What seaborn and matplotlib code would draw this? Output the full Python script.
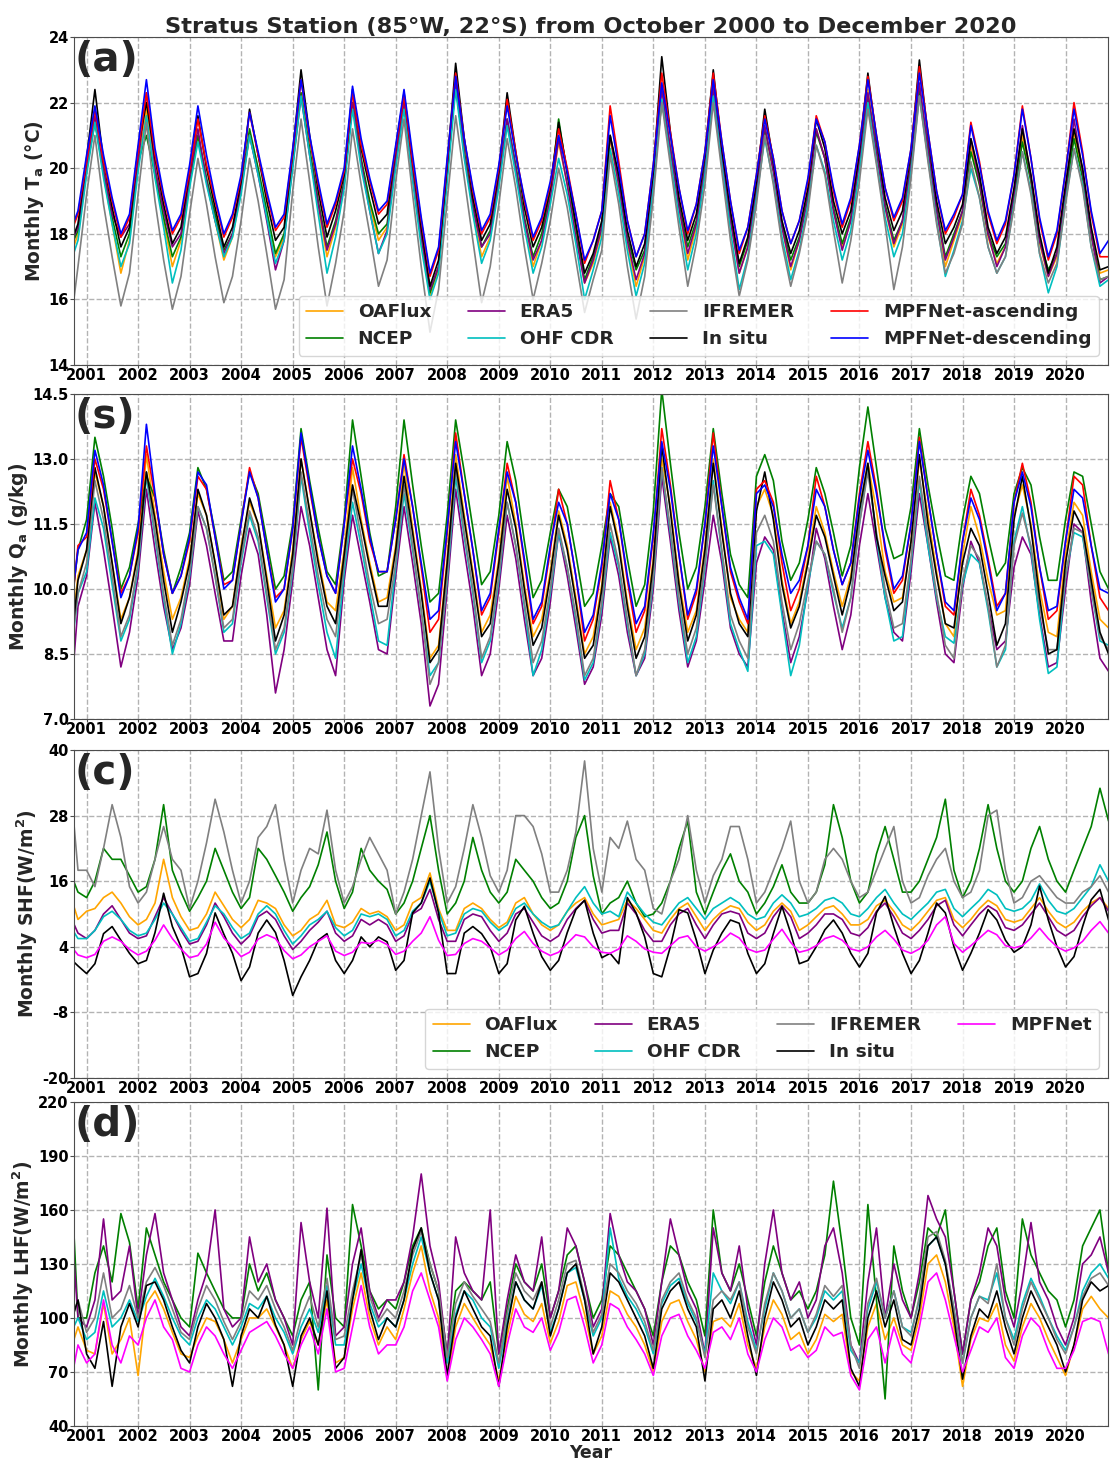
import pandas as pd
import matplotlib
matplotlib.use("Agg")
import matplotlib.pyplot as plt
import matplotlib.dates as mdates
import seaborn as sns

# -----------------------------
# Sample dates: 1st of every other month, Sep 2000 .. Nov 2020
# (values per year: Jan, Mar, May, Jul, Sep, Nov)
# -----------------------------
dates = pd.date_range("2000-09-01", "2020-11-01", freq="2MS")

# -----------------------------
# Panel (a): air temperature Ta (degC)
# -----------------------------
ta_oaflux = [17.2, 18.0,
    19.9, 21.5, 19.8, 18.3, 16.8, 17.8, 20.1, 21.8, 19.9, 18.4, 17.0, 17.8,
    19.6, 21.0, 19.6, 18.4, 17.2, 17.9, 19.3, 21.0, 19.9, 18.6, 17.3, 17.9,
    20.1, 22.3, 20.5, 18.8, 17.3, 18.2, 19.5, 22.0, 20.2, 18.9, 17.8, 18.2,
    20.2, 22.0, 19.8, 17.8, 16.1, 16.9, 19.8, 22.7, 20.5, 18.7, 17.3, 17.9,
    19.6, 21.4, 20.0, 18.4, 17.0, 17.8, 19.1, 20.8, 19.5, 18.0, 16.5, 17.1,
    18.1, 20.9, 19.4, 17.7, 16.4, 17.3, 19.6, 22.5, 20.6, 18.8, 17.2, 18.2,
    20.0, 22.4, 20.3, 18.4, 16.8, 17.6, 19.3, 21.2, 19.9, 18.2, 16.9, 17.8,
    19.1, 21.2, 20.3, 18.7, 17.6, 18.4, 20.2, 22.4, 20.5, 18.8, 17.6, 18.3,
    20.1, 22.5, 20.6, 18.7, 17.0, 17.8, 18.6, 20.7, 19.5, 17.9, 17.1, 17.6,
    19.1, 21.0, 19.6, 17.7, 16.7, 17.3, 19.2, 21.1, 19.8, 17.9, 16.8, 16.9]
ta_ncep = [17.5, 18.1,
    20.0, 21.4, 19.9, 18.5, 17.3, 18.0, 20.2, 21.0, 19.8, 18.5, 17.3, 17.9,
    19.6, 21.0, 19.7, 18.6, 17.5, 18.0, 19.4, 21.2, 20.0, 18.7, 17.4, 18.0,
    20.2, 22.3, 20.6, 19.0, 17.6, 18.4, 19.6, 22.0, 20.3, 19.0, 18.0, 18.3,
    20.3, 22.0, 19.9, 18.0, 16.2, 17.0, 19.9, 22.5, 20.5, 18.9, 17.6, 18.1,
    19.7, 21.5, 20.1, 18.5, 17.3, 18.0, 19.3, 21.5, 19.8, 18.2, 16.6, 17.3,
    18.2, 21.0, 19.6, 17.9, 16.9, 17.5, 19.7, 22.0, 20.6, 18.9, 17.6, 18.4,
    20.1, 22.5, 20.4, 18.5, 17.0, 17.8, 19.4, 21.2, 20.0, 18.3, 17.2, 17.9,
    19.2, 21.1, 20.3, 18.8, 17.7, 18.5, 20.3, 22.2, 20.6, 18.9, 17.8, 18.4,
    20.2, 22.4, 20.6, 18.8, 17.3, 18.0, 18.7, 20.5, 19.5, 18.0, 17.3, 17.7,
    19.1, 20.8, 19.6, 17.8, 16.9, 17.4, 19.2, 20.9, 19.7, 18.0, 16.6, 16.7]
ta_era5 = [17.6, 18.2,
    20.0, 21.6, 19.9, 18.6, 17.9, 18.3, 20.2, 22.3, 20.0, 18.7, 17.6, 18.0,
    19.7, 21.2, 19.6, 18.4, 17.4, 18.0, 19.4, 21.0, 19.8, 18.4, 16.9, 17.8,
    20.1, 22.2, 20.4, 18.9, 17.5, 18.3, 19.5, 22.0, 20.2, 18.7, 17.4, 18.1,
    20.3, 22.0, 19.8, 17.9, 16.3, 17.0, 19.8, 22.6, 20.4, 18.8, 17.6, 18.0,
    19.6, 21.5, 20.0, 18.4, 17.2, 17.8, 19.1, 20.9, 19.5, 17.9, 16.5, 17.2,
    18.2, 21.0, 19.5, 17.8, 16.6, 17.4, 19.6, 22.4, 20.6, 18.8, 17.4, 18.3,
    20.0, 22.5, 20.3, 18.4, 16.8, 17.6, 19.3, 21.3, 19.9, 18.2, 17.0, 17.8,
    19.1, 21.2, 20.3, 18.7, 17.5, 18.4, 20.2, 22.3, 20.5, 18.8, 17.7, 18.4,
    20.1, 22.6, 20.6, 18.7, 17.2, 17.9, 18.7, 20.9, 19.6, 18.0, 17.0, 17.6,
    19.2, 21.3, 19.7, 17.8, 16.7, 17.4, 19.3, 21.5, 19.9, 18.0, 16.5, 16.7]
ta_ohf = [17.0, 17.8,
    19.8, 21.4, 19.7, 18.3, 17.0, 17.7, 19.9, 21.6, 19.7, 18.2, 16.5, 17.5,
    19.4, 20.8, 19.5, 18.4, 17.3, 17.9, 19.2, 21.0, 19.8, 18.5, 17.1, 17.8,
    20.0, 22.2, 20.4, 18.6, 16.8, 17.9, 19.4, 21.8, 20.0, 18.7, 17.4, 18.0,
    20.0, 21.8, 19.6, 17.6, 16.0, 16.8, 19.6, 22.4, 20.3, 18.6, 17.1, 17.8,
    19.4, 21.3, 19.8, 18.2, 16.8, 17.6, 18.9, 20.3, 19.2, 17.7, 16.0, 16.9,
    17.9, 20.6, 19.2, 17.5, 16.1, 17.1, 19.4, 22.1, 20.3, 18.5, 16.9, 18.0,
    19.8, 22.2, 20.1, 18.1, 16.3, 17.3, 19.1, 20.9, 19.6, 17.9, 16.6, 17.5,
    18.9, 20.7, 19.9, 18.4, 17.2, 18.1, 19.9, 22.0, 20.2, 18.5, 17.3, 18.0,
    19.9, 22.2, 20.3, 18.4, 16.7, 17.5, 18.4, 20.0, 19.1, 17.6, 16.8, 17.3,
    18.9, 20.5, 19.3, 17.4, 16.2, 17.0, 19.0, 20.6, 19.5, 17.6, 16.4, 16.6]
ta_ifremer = [14.9, 17.0,
    19.2, 21.0, 18.9, 17.3, 15.8, 16.8, 19.2, 21.4, 19.0, 17.2, 15.7, 16.7,
    18.6, 20.3, 18.9, 17.3, 15.9, 16.7, 18.4, 20.3, 19.0, 17.4, 15.7, 16.6,
    19.3, 21.5, 19.6, 17.6, 15.8, 17.1, 18.7, 21.2, 19.5, 18.0, 16.4, 17.2,
    19.6, 21.5, 19.2, 17.0, 15.0, 16.3, 19.0, 21.6, 19.7, 17.8, 15.9, 17.0,
    18.9, 20.9, 19.4, 17.6, 16.0, 17.1, 18.4, 20.0, 18.8, 17.2, 15.6, 16.6,
    17.5, 20.4, 18.9, 17.0, 15.4, 16.7, 19.1, 22.0, 20.1, 18.2, 16.4, 17.7,
    19.5, 22.0, 19.9, 17.8, 16.1, 17.2, 18.9, 21.0, 19.5, 17.7, 16.4, 17.4,
    18.7, 20.7, 19.8, 18.1, 16.5, 17.8, 19.6, 21.8, 20.1, 18.3, 16.3, 17.6,
    19.7, 22.2, 20.2, 18.3, 16.8, 17.4, 18.3, 20.2, 19.1, 17.6, 16.8, 17.3,
    18.8, 20.5, 19.2, 17.4, 16.5, 17.1, 18.9, 20.6, 19.4, 17.6, 16.6, 16.7]
ta_insitu = [17.6, 18.3,
    20.3, 22.4, 20.2, 18.8, 17.6, 18.2, 20.6, 22.0, 20.3, 18.9, 17.7, 18.2,
    19.9, 21.6, 20.0, 18.8, 17.6, 18.2, 19.6, 21.8, 20.4, 19.0, 17.8, 18.2,
    20.5, 23.0, 21.0, 19.3, 17.9, 18.7, 19.8, 22.4, 20.6, 19.4, 18.3, 18.6,
    20.6, 22.3, 20.2, 18.2, 16.4, 17.2, 20.1, 23.2, 20.9, 19.1, 17.8, 18.3,
    19.9, 22.3, 20.5, 18.8, 17.6, 18.2, 19.4, 21.4, 19.9, 18.3, 16.8, 17.4,
    18.4, 21.0, 19.8, 18.1, 17.0, 17.7, 19.9, 23.4, 21.1, 19.1, 17.8, 18.6,
    20.4, 23.0, 20.6, 18.7, 17.1, 17.9, 19.6, 21.8, 20.2, 18.4, 17.4, 18.1,
    19.4, 21.5, 20.6, 19.0, 18.0, 18.7, 20.5, 22.9, 20.9, 19.1, 18.1, 18.7,
    20.5, 23.3, 21.0, 19.0, 17.7, 18.2, 18.9, 20.9, 19.8, 18.2, 17.4, 17.9,
    19.4, 21.2, 19.8, 18.0, 16.8, 17.6, 19.5, 21.2, 20.0, 18.2, 16.9, 17.0]
ta_mpf_asc = [17.9, 18.6,
    20.2, 21.8, 20.2, 19.0, 17.9, 18.5, 20.5, 22.3, 20.4, 19.1, 18.0, 18.5,
    19.9, 21.5, 20.1, 19.0, 17.9, 18.5, 19.7, 21.7, 20.4, 19.2, 18.1, 18.5,
    20.5, 22.7, 20.9, 19.5, 18.2, 18.9, 19.9, 22.3, 20.7, 19.6, 18.6, 18.9,
    20.6, 22.2, 20.2, 18.4, 16.7, 17.5, 20.2, 22.9, 20.9, 19.3, 18.0, 18.5,
    20.0, 22.1, 20.5, 19.0, 17.8, 18.4, 19.5, 21.2, 20.0, 18.6, 17.1, 17.8,
    18.7, 21.9, 20.2, 18.4, 17.3, 18.0, 20.1, 22.9, 21.1, 19.4, 18.0, 18.9,
    20.5, 22.9, 20.8, 19.0, 17.4, 18.2, 19.8, 21.6, 20.3, 18.7, 17.7, 18.4,
    19.6, 21.6, 20.8, 19.3, 18.2, 19.0, 20.7, 22.8, 21.0, 19.4, 18.4, 19.0,
    20.6, 23.1, 21.1, 19.3, 18.0, 18.5, 19.2, 21.4, 20.2, 18.6, 17.7, 18.3,
    19.8, 21.9, 20.3, 18.4, 17.2, 18.0, 19.9, 22.0, 20.5, 18.6, 17.3, 17.3]
ta_mpf_desc = [18.0, 18.7,
    20.4, 21.9, 20.4, 19.1, 18.0, 18.6, 20.7, 22.7, 20.6, 19.2, 18.1, 18.6,
    20.1, 21.9, 20.4, 19.1, 18.0, 18.6, 19.8, 21.7, 20.5, 19.3, 18.2, 18.6,
    20.6, 22.7, 21.0, 19.6, 18.3, 19.0, 20.0, 22.5, 20.9, 19.7, 18.7, 19.0,
    20.7, 22.4, 20.4, 18.5, 16.8, 17.6, 20.3, 22.8, 20.9, 19.4, 18.1, 18.6,
    20.1, 21.9, 20.4, 19.1, 17.9, 18.5, 19.6, 21.0, 19.9, 18.6, 17.2, 17.8,
    18.7, 21.6, 20.0, 18.4, 17.3, 18.0, 20.1, 22.6, 21.0, 19.4, 18.1, 18.9,
    20.5, 22.7, 20.8, 19.0, 17.5, 18.2, 19.8, 21.5, 20.3, 18.7, 17.7, 18.4,
    19.7, 21.5, 20.8, 19.4, 18.3, 19.1, 20.7, 22.7, 21.0, 19.4, 18.5, 19.1,
    20.6, 22.9, 21.1, 19.3, 18.1, 18.6, 19.2, 21.3, 20.1, 18.7, 17.8, 18.4,
    19.8, 21.8, 20.3, 18.5, 17.3, 18.1, 19.9, 21.8, 20.4, 18.7, 17.4, 17.8]

# -----------------------------
# Panel (s): specific humidity Qa (g/kg)
# -----------------------------
qa_oaflux = [8.6, 10.3,
    10.9, 12.7, 11.9, 10.6, 9.3, 9.8, 10.9, 13.1, 11.7, 10.4, 9.3, 9.8,
    10.7, 12.2, 11.7, 10.6, 9.3, 9.6, 11.0, 12.0, 11.5, 10.3, 9.1, 9.5,
    10.9, 13.0, 11.8, 10.7, 9.7, 9.5, 10.9, 12.8, 11.6, 10.6, 9.7, 9.8,
    11.0, 12.9, 11.4, 10.0, 8.4, 8.7, 10.7, 13.1, 11.7, 10.4, 9.0, 9.4,
    10.7, 12.6, 11.5, 10.1, 8.9, 9.3, 10.4, 11.8, 11.0, 9.8, 8.5, 8.9,
    10.1, 12.0, 11.1, 9.7, 8.6, 9.1, 10.7, 13.0, 11.9, 10.2, 9.0, 9.5,
    11.0, 13.0, 11.4, 9.8, 9.3, 9.0, 11.9, 12.3, 11.7, 10.2, 9.2, 9.7,
    10.7, 11.9, 11.3, 10.4, 9.6, 10.3, 11.9, 12.9, 11.8, 10.4, 9.7, 9.8,
    11.1, 13.0, 11.7, 10.4, 9.2, 8.9, 10.8, 11.9, 11.2, 10.2, 9.4, 9.5,
    11.7, 12.4, 11.5, 10.0, 9.0, 8.9, 10.8, 12.0, 11.7, 10.4, 9.3, 9.1]
qa_ncep = [9.2, 10.9,
    11.6, 13.5, 12.6, 11.4, 10.0, 10.5, 11.5, 12.6, 12.1, 10.9, 9.9, 10.5,
    11.3, 12.8, 12.3, 11.3, 10.2, 10.4, 11.6, 12.7, 12.2, 11.1, 10.0, 10.3,
    11.5, 13.7, 12.5, 11.4, 10.4, 10.1, 11.6, 13.9, 12.6, 11.3, 10.3, 10.4,
    11.9, 13.9, 12.4, 11.0, 9.7, 9.9, 11.7, 13.9, 12.7, 11.4, 10.1, 10.4,
    11.7, 13.4, 12.5, 11.1, 9.8, 10.2, 11.3, 12.3, 11.9, 10.8, 9.6, 9.9,
    11.0, 12.2, 11.9, 10.7, 9.6, 10.1, 11.8, 14.6, 12.9, 11.3, 10.0, 10.5,
    11.9, 13.7, 12.2, 10.8, 10.1, 9.8, 12.6, 13.1, 12.5, 11.1, 10.2, 10.6,
    11.6, 12.8, 12.2, 11.3, 10.3, 11.0, 12.8, 14.2, 12.8, 11.4, 10.7, 10.8,
    11.9, 13.7, 12.4, 11.3, 10.3, 10.2, 11.6, 12.6, 12.2, 11.2, 10.3, 10.6,
    12.2, 12.8, 12.4, 11.2, 10.2, 10.2, 11.6, 12.7, 12.6, 11.5, 10.4, 10.0]
qa_era5 = [7.0, 9.6,
    10.3, 12.0, 10.9, 9.6, 8.2, 9.0, 10.3, 12.3, 10.9, 9.6, 8.6, 9.1,
    10.1, 11.8, 11.0, 9.9, 8.8, 8.8, 10.3, 11.4, 10.8, 9.4, 7.6, 8.6,
    10.2, 11.9, 11.0, 9.8, 8.6, 8.0, 10.2, 11.7, 10.7, 9.7, 8.6, 8.5,
    10.3, 11.9, 10.6, 9.2, 7.3, 7.8, 10.0, 12.3, 10.9, 9.6, 8.0, 8.5,
    10.0, 11.7, 10.7, 9.3, 8.0, 8.4, 9.7, 11.3, 10.3, 9.1, 7.8, 8.2,
    9.4, 11.2, 10.3, 9.0, 8.0, 8.4, 10.0, 12.6, 11.1, 9.5, 8.2, 8.8,
    10.2, 11.7, 10.6, 9.1, 8.5, 8.2, 10.6, 11.2, 10.9, 9.5, 8.3, 8.9,
    10.0, 11.4, 10.7, 9.6, 8.6, 9.4, 11.0, 12.2, 11.0, 9.8, 9.0, 8.8,
    10.4, 12.2, 11.0, 9.7, 8.5, 8.3, 10.0, 11.1, 10.6, 9.6, 8.6, 8.8,
    10.5, 11.2, 10.8, 9.4, 8.2, 8.3, 10.0, 11.5, 11.3, 9.7, 8.4, 8.1]
qa_ohf = [8.2, 9.9,
    10.4, 12.1, 11.4, 10.1, 8.8, 9.3, 10.5, 12.6, 11.2, 9.8, 8.5, 9.2,
    10.3, 11.9, 11.4, 10.3, 9.0, 9.2, 10.6, 11.7, 11.1, 9.8, 8.5, 9.0,
    10.4, 12.6, 11.3, 10.1, 9.0, 8.4, 10.4, 12.0, 11.0, 9.9, 8.8, 8.7,
    10.5, 12.2, 10.9, 9.5, 8.0, 8.3, 10.2, 12.6, 11.2, 9.9, 8.3, 8.8,
    10.2, 12.0, 11.0, 9.6, 8.0, 8.6, 9.9, 11.3, 10.5, 9.3, 7.9, 8.3,
    9.6, 11.3, 10.5, 9.2, 8.0, 8.5, 10.2, 12.8, 11.3, 9.7, 8.3, 8.9,
    10.5, 12.5, 10.8, 9.2, 8.6, 8.1, 11.0, 11.1, 10.8, 9.4, 8.0, 8.7,
    10.1, 11.1, 10.8, 9.9, 9.1, 9.8, 11.5, 12.8, 11.2, 9.8, 8.8, 8.9,
    10.6, 12.5, 11.0, 9.8, 8.9, 8.75, 10.1, 10.8, 10.6, 9.5, 8.2, 8.6,
    11.1, 11.9, 10.9, 9.3, 8.05, 8.2, 10.3, 11.3, 11.2, 10.0, 8.8, 8.7]
qa_ifremer = [8.3, 9.9,
    10.6, 12.5, 11.6, 10.3, 8.9, 9.4, 10.6, 12.7, 11.3, 9.9, 8.7, 9.3,
    10.4, 11.9, 11.4, 10.3, 9.1, 9.3, 10.7, 11.8, 11.2, 9.9, 8.6, 9.1,
    10.5, 12.7, 11.5, 10.3, 9.3, 8.9, 10.6, 12.3, 11.2, 10.1, 9.2, 9.3,
    10.6, 12.4, 11.0, 9.5, 7.8, 8.3, 10.3, 12.8, 11.3, 10.0, 8.4, 8.9,
    10.3, 12.0, 11.0, 9.7, 8.3, 8.8, 10.0, 11.4, 10.5, 9.4, 8.0, 8.4,
    9.7, 11.5, 10.6, 9.3, 8.0, 8.6, 10.3, 12.8, 11.4, 9.8, 8.5, 9.1,
    10.6, 12.4, 10.9, 9.4, 8.8, 8.4, 11.3, 11.7, 11.1, 9.7, 8.6, 9.2,
    10.2, 11.1, 10.8, 10.0, 9.0, 9.8, 11.5, 12.7, 11.3, 10.0, 9.1, 9.2,
    10.7, 12.6, 11.2, 9.9, 8.7, 8.4, 10.2, 11.0, 10.7, 9.6, 8.2, 8.7,
    11.0, 11.75, 11.0, 9.6, 8.6, 8.6, 10.3, 11.4, 11.3, 10.0, 8.9, 8.6]
qa_insitu = [8.3, 10.2,
    10.9, 12.8, 11.9, 10.6, 9.2, 9.8, 10.8, 12.7, 11.6, 10.2, 9.0, 9.7,
    10.6, 12.3, 11.7, 10.6, 9.4, 9.6, 10.9, 12.1, 11.5, 10.2, 8.8, 9.4,
    10.8, 13.0, 11.8, 10.6, 9.6, 9.2, 10.8, 12.4, 11.5, 10.5, 9.6, 9.6,
    10.9, 12.6, 11.3, 9.9, 8.3, 8.6, 10.6, 12.9, 11.6, 10.3, 8.9, 9.2,
    10.6, 12.3, 11.4, 10.0, 8.7, 9.1, 10.3, 11.7, 10.9, 9.7, 8.4, 8.7,
    10.0, 11.9, 11.0, 9.6, 8.4, 8.9, 10.6, 13.3, 11.8, 10.1, 8.8, 9.4,
    10.9, 12.9, 11.3, 9.9, 9.2, 8.9, 11.8, 12.7, 11.6, 10.1, 9.1, 9.6,
    10.6, 11.7, 11.2, 10.3, 9.4, 10.2, 11.8, 12.9, 11.2, 10.3, 9.5, 9.7,
    11.1, 13.1, 11.5, 10.3, 9.2, 9.1, 10.6, 11.4, 11.0, 9.9, 8.7, 9.2,
    11.6, 12.6, 11.4, 9.8, 8.5, 8.6, 10.6, 11.8, 11.4, 10.2, 9.0, 8.5]
qa_mpf_asc = [9.0, 11.0,
    11.2, 13.0, 12.3, 11.1, 9.9, 10.3, 11.3, 13.3, 12.1, 10.8, 9.9, 10.3,
    11.1, 12.6, 12.3, 11.2, 10.1, 10.2, 11.5, 12.8, 12.1, 10.9, 9.8, 10.0,
    11.4, 13.5, 12.3, 11.2, 10.3, 9.9, 11.5, 13.0, 12.2, 11.1, 10.4, 10.4,
    11.6, 13.1, 11.9, 10.5, 9.0, 9.3, 11.3, 13.6, 12.2, 10.9, 9.4, 9.8,
    11.3, 12.9, 12.0, 10.6, 9.2, 9.6, 10.9, 12.3, 11.5, 10.3, 8.8, 9.3,
    10.5, 12.5, 11.6, 10.2, 9.0, 9.5, 11.2, 13.7, 12.4, 10.8, 9.3, 9.9,
    11.5, 13.6, 11.9, 10.4, 9.7, 9.2, 12.3, 12.5, 12.0, 10.6, 9.5, 10.0,
    11.0, 12.6, 11.9, 10.9, 10.1, 10.6, 12.2, 13.4, 12.3, 10.9, 9.9, 10.2,
    11.5, 13.5, 12.1, 10.8, 9.6, 9.4, 11.1, 12.3, 11.7, 10.7, 9.6, 9.9,
    12.0, 12.9, 12.0, 10.5, 9.3, 9.5, 11.1, 12.6, 12.4, 11.0, 9.8, 9.5]
qa_mpf_desc = [9.3, 10.9,
    11.3, 13.2, 12.4, 11.1, 9.8, 10.3, 11.4, 13.8, 12.2, 10.8, 9.9, 10.3,
    11.2, 12.7, 12.4, 11.2, 10.0, 10.2, 11.5, 12.7, 12.1, 10.9, 9.7, 10.0,
    11.4, 13.6, 12.4, 11.2, 10.3, 9.9, 11.5, 13.3, 12.3, 11.2, 10.4, 10.4,
    11.6, 13.0, 11.9, 10.6, 9.3, 9.5, 11.4, 13.4, 12.2, 10.9, 9.5, 9.9,
    11.4, 12.7, 12.0, 10.7, 9.3, 9.7, 11.0, 12.0, 11.5, 10.3, 9.0, 9.4,
    10.6, 12.2, 11.6, 10.3, 9.2, 9.6, 11.3, 13.4, 12.3, 10.8, 9.4, 10.0,
    11.5, 13.3, 11.9, 10.5, 9.8, 9.3, 12.2, 12.4, 11.9, 10.8, 9.9, 10.2,
    11.0, 12.3, 11.9, 10.9, 10.1, 10.6, 12.1, 13.2, 12.2, 11.0, 10.0, 10.3,
    11.5, 13.4, 12.1, 10.8, 9.7, 9.5, 11.1, 12.1, 11.6, 10.6, 9.5, 9.9,
    12.0, 12.7, 11.9, 10.5, 9.5, 9.6, 11.1, 12.3, 12.1, 11.0, 10.0, 9.9]

# -----------------------------
# Panel (c): sensible heat flux SHF (W/m2)
# -----------------------------
shf_oaflux = [14.0, 9.0,
    10.5, 11.0, 13.0, 14.0, 12.0, 9.5, 8.0, 9.0, 12.0, 20.0, 13.0, 9.5,
    7.0, 7.5, 10.0, 14.0, 11.5, 9.0, 7.5, 9.0, 12.5, 12.0, 11.0, 8.0,
    6.0, 7.0, 9.0, 10.0, 12.5, 8.0, 7.5, 8.5, 11.0, 10.0, 10.5, 9.5,
    7.0, 8.0, 12.0, 13.0, 17.5, 11.0, 7.0, 7.0, 11.0, 12.0, 11.0, 9.0,
    7.5, 8.5, 12.0, 13.0, 10.0, 8.0, 7.0, 8.0, 10.5, 12.0, 13.0, 10.0,
    8.0, 8.5, 9.0, 12.5, 11.0, 9.0, 7.0, 6.5, 9.0, 11.0, 12.0, 9.5,
    7.0, 9.0, 10.5, 11.5, 11.0, 8.5, 7.0, 8.0, 10.5, 12.0, 10.5, 7.0,
    8.0, 9.5, 11.0, 11.5, 10.0, 8.0, 8.0, 9.0, 11.5, 12.5, 10.5, 8.0,
    7.0, 8.5, 10.5, 12.5, 13.0, 9.0, 7.5, 9.0, 11.0, 12.5, 11.5, 9.0,
    8.5, 9.0, 11.0, 13.0, 10.5, 8.5, 7.5, 8.5, 10.5, 12.0, 13.0, 11.0]
shf_ncep = [18.0, 14.0,
    13.0, 16.0, 22.0, 20.0, 20.0, 17.0, 14.0, 15.0, 20.0, 30.0, 18.0, 14.0,
    10.5, 13.0, 16.0, 22.0, 18.0, 14.0, 11.0, 13.0, 22.0, 20.0, 17.0, 14.0,
    10.5, 13.0, 15.0, 19.0, 25.0, 16.0, 11.0, 14.0, 22.0, 18.0, 16.0, 14.5,
    10.0, 12.0, 16.0, 22.0, 28.0, 18.0, 10.0, 12.0, 16.0, 24.0, 18.0, 14.0,
    12.0, 14.0, 20.0, 18.0, 16.0, 13.0, 11.0, 12.0, 16.0, 24.0, 28.0, 17.0,
    10.0, 12.0, 13.0, 16.0, 12.0, 9.5, 10.0, 12.0, 16.0, 22.0, 27.0, 14.0,
    10.0, 14.0, 18.0, 21.0, 16.0, 14.0, 10.0, 12.0, 15.0, 19.0, 14.0, 12.0,
    12.0, 14.0, 19.0, 30.0, 24.0, 16.0, 12.0, 14.0, 21.0, 26.0, 20.0, 14.0,
    14.0, 16.0, 20.0, 24.0, 31.0, 18.0, 13.0, 16.0, 22.0, 30.0, 22.0, 16.0,
    14.0, 16.0, 22.0, 26.0, 20.0, 16.0, 14.0, 18.0, 22.0, 26.0, 33.0, 27.0]
shf_era5 = [10.0, 6.5,
    5.5, 7.0, 10.0, 11.5, 9.0, 6.5, 5.5, 6.0, 9.5, 13.0, 10.0, 7.0,
    4.5, 5.0, 8.0, 12.0, 9.5, 6.5, 4.5, 6.0, 9.5, 10.5, 9.0, 6.0,
    3.5, 5.0, 7.0, 8.5, 10.5, 6.5, 5.0, 6.0, 9.0, 8.0, 9.0, 8.0,
    5.0, 6.0, 10.0, 11.0, 14.5, 9.0, 5.0, 5.0, 9.0, 10.0, 9.5, 7.0,
    5.0, 6.5, 10.0, 11.0, 8.5, 6.0, 5.0, 6.0, 9.0, 11.0, 12.5, 9.0,
    6.5, 7.0, 7.0, 12.0, 10.0, 7.0, 5.0, 5.0, 8.0, 10.0, 11.0, 8.0,
    5.5, 8.0, 10.0, 10.5, 10.0, 6.5, 5.5, 6.5, 9.5, 11.5, 9.5, 5.5,
    6.5, 8.0, 10.0, 10.0, 9.0, 6.5, 6.0, 7.5, 10.5, 12.0, 9.5, 6.5,
    5.5, 7.0, 9.0, 11.5, 12.5, 8.0, 6.0, 8.0, 10.0, 11.5, 10.5, 7.5,
    7.0, 8.0, 10.0, 12.0, 9.5, 7.0, 6.0, 7.0, 9.5, 11.5, 13.0, 10.5]
shf_ohf = [8.0, 5.5,
    5.5, 7.0, 9.5, 10.5, 9.0, 7.0, 6.0, 6.5, 9.0, 12.0, 10.0, 7.5,
    5.0, 5.5, 8.5, 11.5, 10.0, 7.5, 5.5, 6.5, 10.0, 11.5, 10.0, 7.0,
    4.5, 6.0, 8.0, 9.0, 10.5, 7.5, 6.0, 7.0, 10.0, 9.5, 10.0, 9.0,
    6.0, 7.0, 10.5, 12.0, 16.0, 10.5, 6.0, 6.5, 10.0, 11.0, 10.5, 8.5,
    7.0, 8.0, 11.0, 12.0, 10.0, 8.5, 7.5, 8.0, 10.5, 13.0, 15.0, 12.0,
    10.0, 10.5, 9.5, 14.0, 12.0, 10.0, 8.5, 8.0, 10.0, 12.0, 13.0, 11.0,
    9.0, 11.0, 12.0, 13.0, 12.0, 10.0, 9.0, 9.5, 12.0, 13.5, 12.0, 9.5,
    10.0, 11.0, 12.5, 13.0, 12.0, 10.0, 9.5, 11.0, 13.0, 14.5, 12.0, 10.0,
    9.0, 10.5, 12.0, 14.0, 14.5, 11.0, 9.5, 11.0, 12.5, 14.5, 13.5, 11.0,
    10.5, 11.0, 12.5, 15.5, 12.5, 10.5, 10.0, 11.0, 13.0, 15.0, 19.0, 16.0]
shf_ifremer = [36.0, 18.0,
    18.0, 15.0, 22.0, 30.0, 24.0, 15.0, 12.0, 14.0, 20.0, 26.0, 20.0, 18.0,
    11.0, 16.0, 23.0, 31.0, 25.0, 18.0, 12.0, 16.0, 24.0, 26.0, 30.0, 20.0,
    12.0, 18.0, 22.0, 21.0, 29.0, 18.0, 12.0, 15.0, 20.0, 24.0, 21.0, 18.0,
    10.0, 14.0, 20.0, 28.0, 36.0, 22.0, 12.0, 15.0, 22.0, 30.0, 24.0, 17.0,
    14.0, 18.0, 28.0, 28.0, 26.0, 21.0, 14.0, 14.0, 18.0, 25.0, 38.0, 22.0,
    14.0, 24.0, 22.0, 27.0, 20.0, 18.0, 11.0, 10.0, 16.0, 20.0, 28.0, 18.0,
    12.0, 17.0, 20.0, 26.0, 26.0, 20.0, 12.0, 14.0, 18.0, 22.0, 27.0, 16.0,
    12.0, 14.0, 20.0, 22.0, 20.0, 16.0, 13.0, 14.0, 18.0, 22.0, 26.0, 16.0,
    12.0, 13.0, 17.0, 20.0, 22.0, 16.0, 13.0, 14.0, 18.0, 28.0, 29.0, 18.0,
    12.0, 13.0, 16.0, 17.0, 15.0, 13.0, 12.0, 12.0, 14.0, 15.0, 17.0, 14.0]
shf_insitu = [2.0, 0.5,
    -0.9, 0.9, 6.4, 7.7, 5.2, 2.8, 0.9, 1.5, 6.6, 13.8, 7.7, 4.0,
    -1.5, -0.9, 2.8, 10.2, 6.3, 2.8, -2.2, 0.3, 6.5, 8.9, 6.6, 1.5,
    -4.9, -1.5, 1.5, 5.2, 6.4, 1.5, -0.9, 1.5, 5.8, 4.0, 5.8, 4.9,
    -0.3, 1.5, 10.2, 12.0, 16.6, 10.2, -0.9, -0.9, 6.5, 7.7, 6.4, 4.0,
    -0.9, 0.9, 8.9, 11.4, 6.5, 2.2, -0.3, 1.5, 6.6, 10.8, 12.5, 6.5,
    2.0, 2.8, 0.9, 13.0, 10.2, 5.8, -0.9, -1.5, 4.0, 10.8, 10.2, 5.2,
    -0.9, 3.4, 6.5, 8.9, 8.3, 2.8, -0.9, 0.9, 6.4, 11.4, 6.5, 0.9,
    1.5, 4.0, 7.1, 8.9, 6.5, 2.8, 0.3, 2.8, 10.2, 13.2, 7.7, 2.8,
    -0.9, 1.5, 6.5, 12.0, 10.2, 4.0, -0.3, 2.8, 6.5, 10.8, 8.9, 5.2,
    3.0, 4.0, 8.0, 15.1, 8.9, 4.0, 0.3, 2.2, 7.7, 12.6, 14.5, 8.9]
shf_mpfnet = [4.5, 2.5,
    2.0, 2.6, 5.0, 5.8, 5.0, 3.5, 2.5, 3.2, 5.2, 8.0, 5.5, 3.6,
    2.0, 2.4, 4.5, 8.5, 5.6, 4.0, 2.2, 3.0, 5.4, 6.2, 5.5, 3.3,
    1.8, 2.5, 4.0, 5.0, 6.0, 3.2, 2.4, 3.0, 4.8, 4.6, 5.2, 4.4,
    2.6, 3.2, 5.0, 6.5, 9.5, 5.2, 2.4, 2.6, 4.6, 5.5, 5.0, 3.8,
    2.5, 3.4, 5.5, 6.8, 4.6, 3.2, 2.4, 3.0, 4.6, 6.2, 5.8, 4.0,
    3.0, 2.8, 3.6, 6.0, 5.0, 3.6, 3.0, 2.8, 4.2, 5.6, 6.0, 4.0,
    3.2, 4.0, 5.0, 6.5, 5.6, 3.6, 3.0, 3.4, 5.4, 7.2, 4.8, 3.0,
    3.4, 4.2, 5.5, 6.0, 5.2, 3.6, 3.2, 4.0, 5.8, 7.0, 5.4, 3.4,
    2.8, 3.6, 5.2, 8.0, 9.5, 4.6, 3.0, 4.2, 5.6, 7.0, 6.2, 4.2,
    3.8, 4.2, 5.6, 7.4, 5.5, 4.0, 3.2, 3.8, 5.0, 7.0, 8.6, 6.5]

# -----------------------------
# Panel (d): latent heat flux LHF (W/m2)
# -----------------------------
lhf_oaflux = [80, 95,
    82, 80, 108, 80, 88, 100, 68, 108, 115, 105, 92, 80,
    78, 90, 100, 98, 88, 75, 88, 100, 100, 105, 95, 85,
    72, 88, 98, 85, 110, 75, 78, 105, 125, 100, 85, 95,
    88, 105, 125, 140, 115, 100, 66, 95, 108, 100, 92, 85,
    65, 90, 112, 102, 98, 108, 86, 98, 118, 120, 102, 80,
    90, 115, 112, 102, 95, 85, 70, 98, 108, 110, 98, 88,
    70, 98, 100, 95, 108, 85, 72, 95, 110, 102, 88, 92,
    80, 88, 102, 98, 102, 70, 65, 95, 108, 88, 100, 85,
    82, 100, 130, 135, 120, 95, 62, 88, 100, 98, 108, 85,
    76, 95, 108, 100, 88, 78, 68, 85, 105, 112, 105, 100]
lhf_ncep = [200, 100,
    100, 125, 140, 120, 158, 142, 105, 150, 135, 120, 110, 100,
    95, 136, 125, 115, 105, 100, 100, 130, 115, 125, 110, 100,
    90, 110, 120, 60, 135, 100, 95, 163, 140, 115, 105, 110,
    105, 120, 140, 150, 130, 115, 80, 115, 120, 115, 110, 120,
    80, 105, 130, 120, 115, 130, 100, 115, 135, 140, 120, 100,
    110, 140, 135, 125, 115, 105, 90, 120, 140, 135, 120, 110,
    90, 160, 125, 115, 130, 110, 90, 120, 140, 125, 110, 115,
    105, 115, 135, 176, 140, 100, 85, 163, 110, 55, 140, 115,
    100, 120, 150, 145, 160, 115, 80, 110, 120, 140, 150, 115,
    100, 155, 135, 125, 115, 110, 95, 110, 140, 150, 160, 125]
lhf_era5 = [170, 100,
    95, 110, 155, 110, 115, 140, 100, 135, 158, 125, 110, 95,
    90, 110, 125, 160, 105, 95, 100, 145, 120, 130, 110, 100,
    85, 153, 120, 100, 161, 90, 95, 130, 150, 115, 100, 110,
    110, 120, 145, 180, 140, 120, 78, 145, 125, 115, 110, 160,
    80, 110, 135, 120, 115, 145, 100, 115, 150, 140, 120, 95,
    105, 158, 135, 120, 115, 105, 85, 120, 155, 135, 115, 105,
    80, 150, 125, 115, 140, 105, 85, 130, 160, 125, 110, 120,
    100, 110, 140, 150, 125, 85, 75, 120, 150, 100, 130, 110,
    100, 125, 168, 155, 145, 115, 80, 110, 125, 150, 140, 110,
    95, 120, 153, 120, 110, 95, 85, 100, 130, 135, 145, 125]
lhf_ohf = [90, 100,
    88, 92, 115, 95, 100, 110, 98, 112, 122, 112, 100, 90,
    85, 100, 110, 105, 95, 85, 95, 108, 105, 112, 100, 92,
    80, 95, 105, 92, 118, 85, 85, 110, 130, 108, 95, 100,
    95, 110, 130, 145, 125, 110, 75, 102, 115, 110, 100, 95,
    72, 98, 120, 110, 105, 118, 92, 105, 125, 128, 110, 90,
    100, 150, 122, 112, 105, 95, 80, 108, 118, 122, 108, 98,
    80, 125, 115, 108, 120, 98, 82, 105, 125, 115, 100, 105,
    92, 100, 115, 110, 115, 82, 75, 105, 120, 100, 115, 95,
    92, 110, 140, 145, 130, 105, 75, 100, 112, 110, 125, 100,
    88, 108, 122, 112, 100, 90, 82, 95, 115, 125, 130, 122]
lhf_ifremer = [95, 110,
    92, 100, 125, 100, 105, 118, 100, 120, 128, 118, 105, 92,
    88, 105, 118, 110, 98, 88, 98, 115, 110, 118, 105, 95,
    82, 100, 112, 95, 122, 88, 90, 115, 135, 112, 98, 105,
    100, 115, 135, 148, 130, 115, 78, 108, 120, 112, 105, 98,
    75, 102, 125, 115, 110, 120, 95, 110, 130, 132, 112, 92,
    102, 130, 125, 115, 108, 98, 82, 110, 120, 125, 110, 100,
    78, 110, 115, 110, 120, 95, 80, 108, 125, 115, 100, 105,
    92, 102, 118, 112, 118, 85, 72, 108, 122, 100, 115, 95,
    90, 112, 145, 148, 132, 105, 75, 100, 112, 108, 130, 100,
    85, 105, 120, 110, 100, 88, 80, 95, 112, 122, 125, 118]
lhf_insitu = [95, 110,
    80, 72, 98, 62, 95, 108, 95, 118, 120, 110, 95, 82,
    75, 95, 108, 100, 88, 62, 90, 105, 100, 112, 96, 85,
    62, 90, 100, 85, 115, 72, 78, 110, 138, 105, 88, 100,
    95, 110, 138, 150, 125, 110, 68, 100, 115, 105, 95, 90,
    62, 95, 120, 110, 105, 120, 90, 105, 125, 130, 110, 80,
    95, 125, 120, 110, 100, 90, 72, 105, 115, 120, 105, 95,
    65, 105, 110, 100, 115, 90, 68, 100, 120, 110, 95, 100,
    85, 95, 110, 105, 110, 72, 62, 100, 115, 95, 110, 88,
    85, 105, 140, 145, 130, 100, 66, 90, 105, 100, 115, 95,
    80, 100, 115, 105, 95, 85, 70, 85, 110, 120, 115, 118]
lhf_mpfnet = [60, 85,
    75, 80, 110, 85, 75, 90, 85, 100, 110, 95, 88, 72,
    70, 85, 95, 90, 80, 72, 82, 92, 95, 98, 90, 80,
    72, 85, 95, 80, 105, 70, 72, 95, 118, 95, 80, 85,
    85, 95, 115, 125, 110, 95, 65, 88, 100, 95, 88, 80,
    62, 85, 105, 95, 92, 100, 82, 92, 110, 112, 95, 75,
    85, 108, 105, 95, 88, 80, 68, 90, 100, 102, 90, 82,
    72, 92, 95, 88, 100, 80, 70, 88, 100, 95, 82, 85,
    78, 82, 95, 90, 92, 68, 60, 88, 95, 75, 95, 80,
    75, 95, 120, 125, 110, 90, 70, 82, 95, 92, 100, 78,
    72, 90, 100, 95, 82, 72, 72, 82, 98, 100, 98, 80]

# -----------------------------
# Names, colours, axis settings
# -----------------------------
order_a = ["OAFlux", "NCEP", "ERA5", "OHF CDR", "IFREMER", "In situ",
           "MPFNet-ascending", "MPFNet-descending"]
order_c = ["OAFlux", "NCEP", "ERA5", "OHF CDR", "IFREMER", "In situ", "MPFNet"]
colors = {"OAFlux": "orange", "NCEP": "green", "ERA5": "purple", "OHF CDR": "c",
          "IFREMER": "gray", "In situ": "black", "MPFNet-ascending": "red",
          "MPFNet-descending": "blue", "MPFNet": "magenta"}

panels = [
    ("(a)", "Monthly T$_a$ (°C)", order_a,
     [ta_oaflux, ta_ncep, ta_era5, ta_ohf, ta_ifremer, ta_insitu, ta_mpf_asc, ta_mpf_desc],
     (14, 24), [14, 16, 18, 20, 22, 24], "%d", True),
    ("(s)", "Monthly Q$_a$ (g/kg)", order_a,
     [qa_oaflux, qa_ncep, qa_era5, qa_ohf, qa_ifremer, qa_insitu, qa_mpf_asc, qa_mpf_desc],
     (7.0, 14.5), [7.0, 8.5, 10.0, 11.5, 13.0, 14.5], "%.1f", False),
    ("(c)", "Monthly SHF(W/m$^2$)", order_c,
     [shf_oaflux, shf_ncep, shf_era5, shf_ohf, shf_ifremer, shf_insitu, shf_mpfnet],
     (-20, 40), [-20, -8, 4, 16, 28, 40], "%d", True),
    ("(d)", "Monthly LHF(W/m$^2$)", order_c,
     [lhf_oaflux, lhf_ncep, lhf_era5, lhf_ohf, lhf_ifremer, lhf_insitu, lhf_mpfnet],
     (40, 220), [40, 70, 100, 130, 160, 190, 220], "%d", False),
]

# axes rectangles in figure fractions (left, bottom, width, height)
rects = [(0.0667, 0.7507, 0.9315, 0.2240),
         (0.0667, 0.5089, 0.9315, 0.2220),
         (0.0667, 0.2637, 0.9315, 0.2240),
         (0.0667, 0.0260, 0.9315, 0.2213)]

sns.set_style("ticks")
plt.rcParams["font.family"] = ["DejaVu Sans"]
plt.rcParams.update({"font.weight": "bold", "axes.labelweight": "bold",
                     "axes.titleweight": "bold", "mathtext.default": "regular",
                     "axes.edgecolor": "0.3", "xtick.color": "0.3", "ytick.color": "0.3",
                     "xtick.labelcolor": "black", "ytick.labelcolor": "black"})

fig = plt.figure(figsize=(11.1, 14.64), dpi=100)

for rect, (tag, ylab, order, series, ylim, yticks, yfmt, show_leg) in zip(rects, panels):
    ax = fig.add_axes(rect)
    frames = [pd.DataFrame({"date": dates, "value": vals, "source": name})
              for name, vals in zip(order, series)]
    df = pd.concat(frames, ignore_index=True)
    sns.lineplot(data=df, x="date", y="value", hue="source", hue_order=order,
                 palette=colors, estimator=None, linewidth=1.2, ax=ax, legend=show_leg)

    ax.set_xlim(pd.Timestamp("2000-10-04"), pd.Timestamp("2020-10-28"))
    ax.xaxis.set_major_locator(mdates.YearLocator())
    ax.xaxis.set_major_formatter(mdates.DateFormatter("%Y"))
    ax.set_ylim(*ylim)
    ax.set_yticks(yticks)
    ax.yaxis.set_major_formatter(matplotlib.ticker.FormatStrFormatter(yfmt))
    ax.tick_params(axis="y", labelsize=10.5, length=3, pad=0.8)
    ax.tick_params(axis="x", labelsize=10.5, length=2.5, pad=0.0)
    ax.grid(True, linestyle="--", color="0.7", linewidth=1.0)
    ax.set_ylabel(ylab, fontsize=13.5, labelpad=1.5)
    ax.set_xlabel("")
    ax.text(0.0, 0.99, tag, transform=ax.transAxes, fontsize=29,
            fontweight="bold", va="top", ha="left")

    if show_leg:
        handles, labels = ax.get_legend_handles_labels()
        ax.legend(handles, labels, ncol=4, loc="lower right",
                  prop={"weight": "bold", "size": 13.3})
    if tag == "(a)":
        ax.set_title("Stratus Station (85°W, 22°S) from October 2000 to December 2020",
                     fontsize=16.2, pad=3)
    if tag == "(d)":
        ax.set_xlabel("Year", fontsize=12.5, labelpad=0.0)

fig.savefig("out.png", dpi=100)
